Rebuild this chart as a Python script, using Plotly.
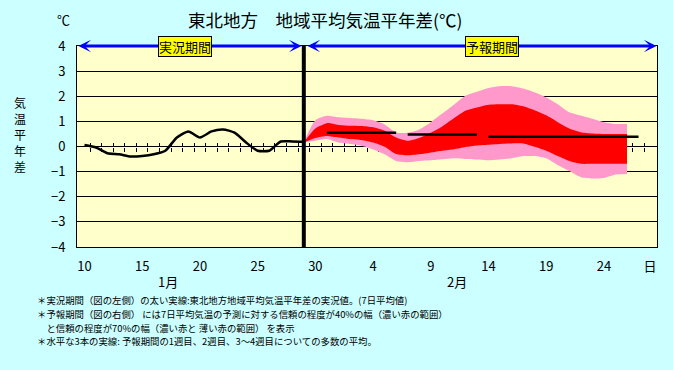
import plotly.graph_objects as go

# ---------------- data ----------------
# daily categories: Jan 10 .. Feb 28
days = [f"1/{d}" for d in range(10, 32)] + [f"2/{d}" for d in range(1, 29)]
idx = {d: i for i, d in enumerate(days)}

tick_days = ["1/10", "1/15", "1/20", "1/25", "1/30", "2/4", "2/9", "2/14", "2/19", "2/24", "2/28"]
tick_labels = ["10", "15", "20", "25", "30", "4", "9", "14", "19", "24", "日"]

# observed 7-day mean anomaly (Jan 10 .. Jan 29)
obs_start = "1/10"
obs_values = [0.06, -0.04, -0.27, -0.31, -0.40, -0.38, -0.31, -0.17, 0.36, 0.60,
              0.36, 0.60, 0.68, 0.55, 0.16, -0.17, -0.17, 0.20, 0.20, 0.19]

# forecast ranges (Jan 29 .. Feb 26)
fc_start = "1/29"
pink_upper = [0.17, 1.04, 1.22, 1.16, 1.13, 1.10, 1.04, 0.88, 0.56, 0.55,
              0.68, 0.97, 1.31, 1.66, 2.02, 2.18, 2.33, 2.40, 2.40, 2.31,
              2.16, 1.95, 1.68, 1.36, 1.23, 1.10, 0.97, 0.90, 0.90]
pink_lower = [0.17, 0.23, 0.30, 0.16, 0.10, 0.03, -0.11, -0.31, -0.58, -0.63,
              -0.58, -0.55, -0.51, -0.47, -0.50, -0.52, -0.55, -0.52, -0.47, -0.38,
              -0.38, -0.47, -0.74, -0.98, -1.22, -1.27, -1.25, -1.11, -1.09]
red_upper = [0.17, 0.72, 0.93, 0.86, 0.83, 0.82, 0.77, 0.63, 0.36, 0.23,
             0.34, 0.55, 0.80, 1.12, 1.42, 1.55, 1.66, 1.68, 1.68, 1.60,
             1.44, 1.24, 0.97, 0.72, 0.57, 0.52, 0.50, 0.50, 0.50]
red_lower = [0.17, 0.34, 0.42, 0.36, 0.30, 0.26, 0.16, -0.01, -0.30, -0.35,
             -0.31, -0.24, -0.17, -0.11, -0.02, 0.04, 0.07, 0.10, 0.12, 0.12,
             -0.01, -0.17, -0.38, -0.58, -0.69, -0.69, -0.69, -0.69, -0.69]

# ensemble mean for week1, week2, weeks3-4
week_spans = [("1/31", "2/6"), ("2/7", "2/13"), ("2/14", "2/27")]
week_means = [0.55, 0.48, 0.39]

# ---------------- helpers ----------------
def xs(start, n):
    s = idx[start]
    return list(range(s, s + n))

obs_x = xs(obs_start, len(obs_values))
fc_x = xs(fc_start, len(pink_upper))
obs_end = obs_x[-1]

XR = [-0.65, 49.6]
JP = "Noto Sans CJK JP, Noto Sans, sans-serif"
L, R, T, B = 77, 16, 46, 123
PW, PH = 673 - L - R, 370 - T - B


def px_x(x):
    return (x - L) / PW


def px_y(y):
    return (370 - B - y) / PH


fig = go.Figure()

# 70% range (pink)
fig.add_trace(go.Scatter(x=fc_x, y=pink_lower, mode="lines", line=dict(width=0, shape="spline", smoothing=0.6),
                         hoverinfo="skip"))
fig.add_trace(go.Scatter(x=fc_x, y=pink_upper, mode="lines", line=dict(width=0, shape="spline", smoothing=0.6),
                         fill="tonexty", fillcolor="#FF99CC", hoverinfo="skip"))
# 40% range (red)
fig.add_trace(go.Scatter(x=fc_x, y=red_lower, mode="lines", line=dict(width=0, shape="spline", smoothing=0.6),
                         hoverinfo="skip"))
fig.add_trace(go.Scatter(x=fc_x, y=red_upper, mode="lines", line=dict(width=0, shape="spline", smoothing=0.6),
                         fill="tonexty", fillcolor="#FF0000", hoverinfo="skip"))

# weekly means
for (a, b), m in zip(week_spans, week_means):
    fig.add_trace(go.Scatter(x=[idx[a], idx[b]], y=[m, m], mode="lines",
                             line=dict(color="black", width=2.5), hoverinfo="skip"))

# observation line
fig.add_trace(go.Scatter(x=obs_x, y=obs_values, mode="lines",
                         line=dict(color="black", width=2.5, shape="spline", smoothing=0.6)))

# dummy traces so the zero-line tick axes render
fig.add_trace(go.Scatter(x=[], y=[], xaxis="x2", hoverinfo="skip"))
fig.add_trace(go.Scatter(x=[], y=[], xaxis="x3", hoverinfo="skip"))

# boundary between observation and forecast
fig.add_shape(type="line", xref="x", yref="y", x0=obs_end, x1=obs_end, y0=-4, y1=4,
              line=dict(color="black", width=4), layer="above")

# period arrows
for x0, x1 in [(XR[0], obs_end - 0.2), (obs_end + 0.2, XR[1] - 0.05)]:
    fig.add_annotation(x=x1, y=4, ax=x0, ay=4, xref="x", yref="y", axref="x", ayref="y",
                       text="", showarrow=True, arrowhead=3, startarrowhead=3,
                       arrowside="end+start", arrowwidth=3, arrowsize=0.7, startarrowsize=0.7,
                       arrowcolor="#0000FF")

for label, xc in [("実況期間", 8.7), ("予報期間", 35.3)]:
    fig.add_annotation(x=xc, y=4, xref="x", yref="y", text=label, showarrow=False,
                       xanchor="center", yanchor="middle",
                       bgcolor="#FFFF00", bordercolor="black", borderwidth=1, borderpad=0,
                       font=dict(family=JP, size=13, color="black"))

tickbound = [i + 0.5 for i in range(len(days) - 1)]
common_x2 = dict(overlaying="x", anchor="free", position=0.5, range=XR, tickmode="array",
                 tickvals=tickbound, ticklen=4, tickwidth=1, tickcolor="black",
                 showticklabels=False, showgrid=False, zeroline=False, showline=False,
                 layer="below traces", side="bottom", automargin=False)

fig.update_layout(
    width=673, height=370,
    margin=dict(l=L, r=R, t=T, b=B, pad=0, autoexpand=False),
    paper_bgcolor="#CCFFFF", plot_bgcolor="#FFFFCC",
    showlegend=False,
    font=dict(family=JP, size=13, color="black"),
    xaxis=dict(range=XR, tickmode="array", tickvals=[idx[d] for d in tick_days], ticktext=tick_labels,
               ticks="outside", ticklen=7, tickcolor="rgba(0,0,0,0)", automargin=False,
               showgrid=False, zeroline=False, showline=True, linecolor="black", linewidth=1, mirror=True,
               tickfont=dict(family=JP, size=13, color="black")),
    yaxis=dict(range=[-4, 4], tickmode="linear", tick0=0, dtick=1, automargin=False,
               showgrid=True, gridcolor="black", gridwidth=1, zeroline=False,
               showline=True, linecolor="black", linewidth=1, mirror=True,
               ticks="outside", ticklen=8, tickcolor="rgba(0,0,0,0)",
               tickfont=dict(family=JP, size=13, color="black")),
    xaxis2=dict(ticks="outside", **common_x2),
    xaxis3=dict(ticks="inside", **common_x2),
)


def label(xpx, ypx, text, size, **kw):
    fig.add_annotation(x=px_x(xpx), y=px_y(ypx), xref="paper", yref="paper", text=text,
                       showarrow=False, xanchor=kw.get("xanchor", "center"), yanchor="middle",
                       font=dict(family=JP, size=size, color="black"))


# texts
label(325, 20, "東北地方　地域平均気温平年差(℃)", 17.5)
label(63, 20, "℃", 13)
for k, ch in enumerate("気温平年差"):
    label(20, 102 + 16 * k, ch, 12)
label(168, 281, "1月", 13)
label(457, 281, "2月", 13)

notes = [
    "＊実況期間（図の左側）の太い実線:東北地方地域平均気温平年差の実況値。(7日平均値)",
    "＊予報期間（図の右側） には7日平均気温の予測に対する信頼の程度が40%の幅（濃い赤の範囲）",
    "　と信頼の程度が70%の幅（濃い赤と 薄い赤の範囲） を表示",
    "＊水平な3本の実線: 予報期間の1週目、2週目、3～4週目についての多数の平均。",
]
for t, ypx in zip(notes, [300, 313.7, 327.7, 341]):
    label(35, ypx, t, 9.4, xanchor="left")

fig.write_html("out.html", config={"displayModeBar": False},
               post_script="document.body.style.margin='0';document.body.style.overflow='hidden';")
